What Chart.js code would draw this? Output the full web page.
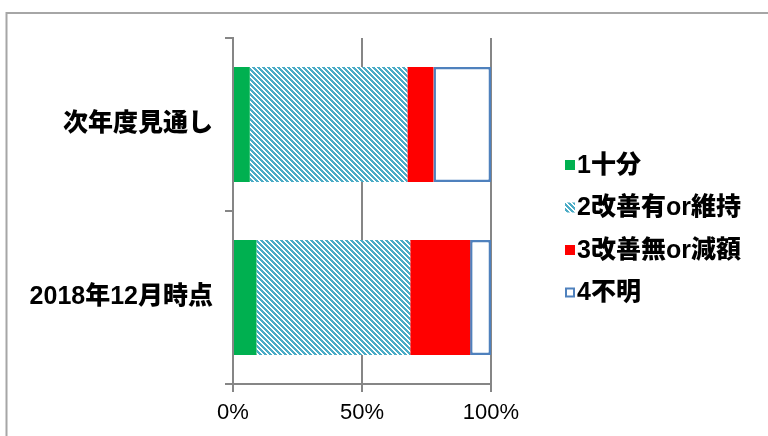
<!DOCTYPE html>
<html><head><meta charset="utf-8">
<script src="https://cdn.jsdelivr.net/npm/chart.js@4.4.0/dist/chart.umd.min.js"></script>
<style>html,body{margin:0;padding:0;background:#fff;overflow:hidden}#wrap{width:768px;height:436px;position:relative}</style>
</head><body><div id="wrap"><canvas id="c" width="768" height="436"></canvas></div>
<script>
const categories = ["次年度見通し", "2018年12月時点"];
const seriesNames = ["1十分", "2改善有or維持", "3改善無or減額", "4不明"];
const s1 = [6.5, 9.1];
const s2 = [61.1, 59.6];
const s3 = [10.1, 23.2];
const s4 = [22.3, 8.1];
const xTicks = [0, 50, 100];

const CJK_FAMILY = '"Liberation Sans","Noto Sans CJK JP",sans-serif';
const NUM_FAMILY = '"Liberation Sans","DejaVu Sans",sans-serif';

const canvas = document.getElementById('c');
const ctx = canvas.getContext('2d');

function makeHatch(){
  const p = document.createElement('canvas');
  const n = 5;
  p.width = n; p.height = n;
  const c = p.getContext('2d');
  const img = c.createImageData(n, n);
  for (let y = 0; y < n; y++) for (let x = 0; x < n; x++) {
    const k = (y * n + x) * 4;
    const blue = (((x - y) % n) + n) % n < 3;
    img.data[k] = blue ? 0x4B : 255;
    img.data[k+1] = blue ? 0xAC : 255;
    img.data[k+2] = blue ? 0xC6 : 255;
    img.data[k+3] = 255;
  }
  c.putImageData(img, 0, 0);
  return ctx.createPattern(p, 'repeat');
}
const hatch = makeHatch();

const framePlugin = {
  id: 'frame',
  beforeDraw(chart){
    const c = chart.ctx;
    c.save();
    c.fillStyle = '#fff';
    c.fillRect(0, 0, chart.width, chart.height);
    c.strokeStyle = '#a6a6a6';
    c.lineWidth = 2;
    c.beginPath();
    c.moveTo(6.5, 436); c.lineTo(6.5, 13); c.lineTo(768, 13);
    c.stroke();
    c.restore();
  }
};

const legendPlugin = {
  id: 'customLegend',
  afterDraw(chart){
    const c = chart.ctx;
    const x0 = 565, y0 = 165, step = 42.5;
    c.save();
    c.font = '900 25px ' + CJK_FAMILY;
    c.textBaseline = 'middle';
    c.textAlign = 'left';
    chart.data.datasets.forEach((ds, i) => {
      const y = y0 + i * step;
      c.fillStyle = ds.backgroundColor;
      c.fillRect(x0, y - 5, 10, 10);
      if (ds.borderWidth) {
        c.strokeStyle = ds.borderColor;
        c.lineWidth = 2;
        c.strokeRect(x0 + 1, y - 4, 8, 8);
      }
      c.fillStyle = '#000';
      c.fillText(ds.label, x0 + 12, y + 1);
    });
    c.restore();
  }
};

new Chart(ctx, {
  type: 'bar',
  data: {
    labels: categories,
    datasets: [
      {label: seriesNames[0], data: s1, backgroundColor: '#00B050', borderWidth: 0},
      {label: seriesNames[1], data: s2, backgroundColor: hatch, borderWidth: 0},
      {label: seriesNames[2], data: s3, backgroundColor: '#FF0000', borderWidth: 0},
      {label: seriesNames[3], data: s4, backgroundColor: '#FFFFFF', borderColor: '#4F81BD', borderWidth: 2.5, borderSkipped: false}
    ]
  },
  options: {
    indexAxis: 'y',
    responsive: false,
    animation: false,
    devicePixelRatio: 1,
    barPercentage: 0.665,
    categoryPercentage: 1,
    layout: {padding: {left: 0, right: 277, top: 38, bottom: 0}},
    plugins: {legend: {display: false}, tooltip: {enabled: false}},
    scales: {
      x: {
        stacked: true, min: 0, max: 100,
        afterBuildTicks: s => { s.ticks = xTicks.map(v => ({value: v})); },
        ticks: {callback: v => v + '%', color: '#000', padding: 8, maxRotation: 0,
                font: {family: NUM_FAMILY, size: 22}},
        grid: {color: '#868686', lineWidth: 2, tickLength: 8, drawTicks: true},
        border: {color: '#868686', width: 2},
        afterFit: s => { s.height = 52; }
      },
      y: {
        stacked: true,
        ticks: {color: '#000', padding: 12, font: {family: CJK_FAMILY, size: 25, weight: '900'}},
        grid: {display: true, drawOnChartArea: false, color: '#868686', lineWidth: 2, tickLength: 8, offset: true},
        border: {color: '#868686', width: 2},
        afterFit: s => { s.width = 233; }
      }
    }
  },
  plugins: [framePlugin, legendPlugin]
});
</script></body></html>
